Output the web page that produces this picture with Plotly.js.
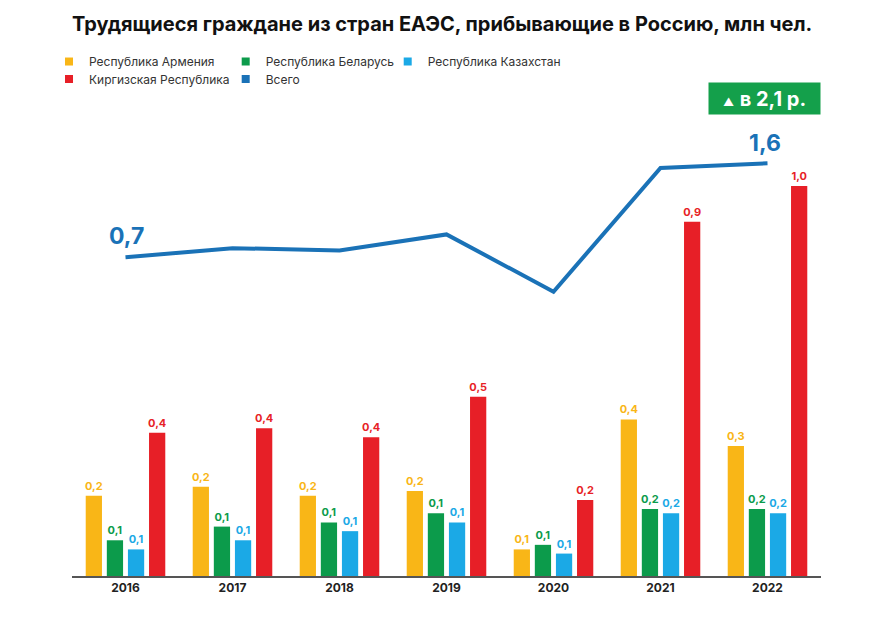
<!DOCTYPE html>
<html>
<head>
<meta charset="utf-8">
<script src="https://cdn.plot.ly/plotly-3.0.1.min.js"></script>
<style>html,body{margin:0;padding:0;background:#fff;}#chart{width:872px;height:621px;}</style>
</head>
<body>
<div id="chart"></div>
<script>
// ---- data ----
const years = ["2016", "2017", "2018", "2019", "2020", "2021", "2022"];
const armenia    = [0.211, 0.235, 0.211, 0.224, 0.070, 0.412, 0.342];
const belarus    = [0.094, 0.130, 0.141, 0.165, 0.082, 0.176, 0.176];
const kazakhstan = [0.070, 0.094, 0.118, 0.141, 0.059, 0.165, 0.165];
const kyrgyzstan = [0.377, 0.389, 0.365, 0.472, 0.200, 0.932, 1.026];
const total      = [0.74, 0.82, 0.80, 0.94, 0.44, 1.52, 1.56];
const armeniaLabels    = ["0,2", "0,2", "0,2", "0,2", "0,1", "0,4", "0,3"];
const belarusLabels    = ["0,1", "0,1", "0,1", "0,1", "0,1", "0,2", "0,2"];
const kazakhstanLabels = ["0,1", "0,1", "0,1", "0,1", "0,1", "0,2", "0,2"];
const kyrgyzstanLabels = ["0,4", "0,4", "0,4", "0,5", "0,2", "0,9", "1,0"];
const totalFirstLabel = "0,7";
const totalLastLabel = "1,6";
const growthLabel = "в 2,1 р.";
const seriesNames = ["Республика Армения", "Республика Беларусь", "Республика Казахстан", "Киргизская Республика", "Всего"];
const titleText = "Трудящиеся граждане из стран ЕАЭС, прибывающие в Россию, млн чел.";

// ---- styles ----
const colors = ["#f9b617", "#0c9b4b", "#1ba9e6", "#e71f27", "#1a72b7"];
const FONT = "Inter, Roboto, 'DejaVu Sans', sans-serif";

function barTrace(vals, labels, i) {
  return {
    type: "bar", x: years, y: vals, name: seriesNames[i], showlegend: false,
    marker: {color: colors[i]},
    text: labels, textposition: "outside", texttemplate: "<b>%{text}</b>",
    textfont: {family: FONT, size: 11, color: colors[i]},
    constraintext: "none", cliponaxis: false, hoverinfo: "skip"
  };
}
function legendTrace(i, legendId) {
  return {
    type: "scatter", mode: "markers", x: [null], y: [null], name: seriesNames[i],
    legend: legendId, showlegend: true,
    marker: {symbol: "square", size: 8, color: colors[i]}, hoverinfo: "skip"
  };
}

const data = [
  barTrace(armenia, armeniaLabels, 0),
  barTrace(belarus, belarusLabels, 1),
  barTrace(kazakhstan, kazakhstanLabels, 2),
  barTrace(kyrgyzstan, kyrgyzstanLabels, 3),
  {
    type: "scatter", mode: "lines", x: years, y: total, yaxis: "y2", name: seriesNames[4],
    showlegend: false, line: {color: colors[4], width: 4}, cliponaxis: false, hoverinfo: "skip"
  },
  legendTrace(0, "legend"),
  legendTrace(1, "legend2"),
  legendTrace(2, "legend3"),
  legendTrace(3, "legend4"),
  legendTrace(4, "legend5")
];

function legendAt(x, y) {
  return {
    orientation: "v", yanchor: "top", xanchor: "left", x: x, y: y,
    font: {family: FONT, size: 12, color: "#333"}, bgcolor: "rgba(0,0,0,0)",
    tracegroupgap: 0, itemclick: false, itemdoubleclick: false
  };
}
const row1 = 1.1113, row2 = 1.0745;
const col1 = -0.0307, col2 = 0.2052, col3 = 0.4215;

const layout = {
  width: 872, height: 621,
  margin: {l: 72, r: 51, t: 100, b: 45},
  paper_bgcolor: "#fff", plot_bgcolor: "#fff",
  font: {family: FONT},
  title: {
    text: "<b>" + titleText + "</b>",
    font: {family: FONT, size: 20, color: "#111"},
    xref: "paper", x: 0, xanchor: "left",
    yref: "container", y: 0.962, yanchor: "middle"
  },
  barmode: "group", bargap: 0.211, bargroupgap: 0.23,
  xaxis: {
    type: "category", range: [-0.5, 6.5], fixedrange: true,
    showline: true, linecolor: "#555", linewidth: 2, showgrid: false, zeroline: false,
    ticks: "", tickfont: {family: FONT, size: 12, color: "#222", weight: "bold"}
  },
  yaxis: {range: [0, 1.2526], showgrid: false, zeroline: false, showticklabels: false, showline: false, fixedrange: true},
  yaxis2: {range: [-2.041, 2.113], overlaying: "y", side: "right", showgrid: false, zeroline: false,
           showticklabels: false, showline: false, ticks: "", fixedrange: true},
  legend:  legendAt(col1, row1),
  legend2: legendAt(col2, row1),
  legend3: legendAt(col3, row1),
  legend4: legendAt(col1, row2),
  legend5: legendAt(col2, row2),
  annotations: [
    {x: 0, y: total[0], xref: "x", yref: "y2", text: "<b>" + totalFirstLabel + "</b>",
     showarrow: false, yanchor: "middle", yshift: 21, xshift: 1,
     font: {family: FONT, size: 23, color: colors[4]}},
    {x: years.length - 1, y: total[total.length - 1], xref: "x", yref: "y2",
     text: "<b>" + totalLastLabel + "</b>",
     showarrow: false, yanchor: "middle", yshift: 20, xshift: -3,
     font: {family: FONT, size: 23, color: colors[4]}},
    {xref: "paper", yref: "paper", x: 1, y: 1.0025, xanchor: "right", yanchor: "middle",
     text: "<span style='font-size:11px'>▲</span> <b>" + growthLabel + "</b>",
     showarrow: false, bgcolor: "#14a04b", borderpad: 1, width: 109, height: 29, align: "center",
     font: {family: FONT, size: 20, color: "#fff"}}
  ]
};

Plotly.newPlot("chart", data, layout, {displayModeBar: false, staticPlot: true});
</script>
</body>
</html>
